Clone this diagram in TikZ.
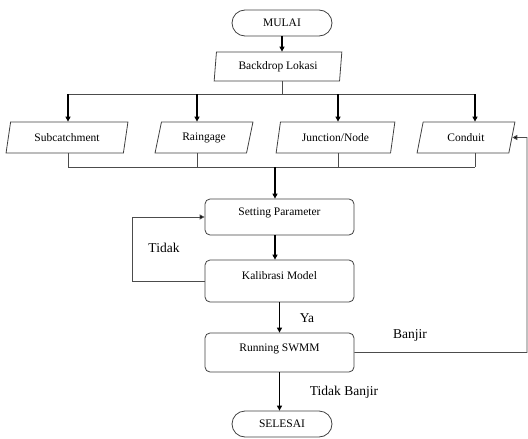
\documentclass[tikz,border=0pt]{standalone}
\usepackage{fontspec}
\setmainfont{Liberation Serif}
\usetikzlibrary{shapes.geometric,arrows.meta}
\begin{document}
\begin{tikzpicture}[x=1pt,y=-1pt,
 box/.style={draw=black!75, line width=0.8pt, font=\fontsize{11.5}{12}\selectfont, inner sep=0pt},
 term/.style={box, rectangle, rounded corners=13pt, minimum width=100pt, minimum height=26pt},
 io/.style={box, trapezium, trapezium left angle=72, trapezium right angle=108, trapezium stretches=true, minimum height=31pt},
 proc/.style={box, rectangle, rounded corners=5pt, minimum width=149pt, text height=7pt, text depth=10pt},
 arr/.style={line width=1.1pt, -{Triangle[length=5pt,width=5pt]}},
 arrthin/.style={draw=black!70, line width=0.8pt, -{Triangle[length=5pt,width=5pt,fill=black]}},
 ln/.style={draw=black!70, line width=0.8pt},
 lab/.style={font=\fontsize{13.5}{14}\selectfont, inner sep=0pt}]
\useasboundingbox (0,0) rectangle (528,439);

\node[term] (mulai) at (282,23) {MULAI};
\node[io, trapezium left angle=82, trapezium right angle=98, minimum width=128pt, minimum height=29pt] (backdrop) at (278,66.5) {Backdrop Lokasi};
\node[io, minimum width=122pt] (sub) at (67,137.5) {Subcatchment};
\node[io, minimum width=98pt] (rain) at (204,137.5) {Raingage};
\node[io, minimum width=119pt] (junc) at (335.5,137.5) {Junction/Node};
\node[io, minimum width=98pt] (cond) at (466,137.5) {Conduit};
\node[proc, minimum height=36pt] (set) at (279.5,217) {Setting Parameter};
\node[proc, minimum height=42pt] (kal) at (279.5,281) {Kalibrasi Model};
\node[proc, minimum height=39pt] (run) at (279.5,352.5) {Running SWMM};
\node[term] (selesai) at (282,424) {SELESAI};

\node[lab] (tidak) at (164,248) {Tidak};
\node[lab] (ya) at (307,318) {Ya};
\node[lab] (banjir) at (410,335) {Banjir};
\node[lab] (tb) at (344,392) {Tidak Banjir};

\coordinate (bt) at (282,94);
\coordinate (b1) at (68,94);
\coordinate (b2) at (197,94);
\coordinate (b3) at (338,94);
\coordinate (b4) at (475,94);
\coordinate (c1) at (68,167);
\coordinate (c2) at (197,167);
\coordinate (c3) at (338,167);
\coordinate (c4) at (475,167);
\coordinate (c0) at (275,167);
\coordinate (lp) at (132,217);
\coordinate (rb) at (527,137.5);

\draw[arr] (mulai.south) -- (backdrop.north -| mulai.south);
\draw[ln] (backdrop.south -| bt) -- (bt);
\draw[ln] (b1) -- (b4);
\draw[arr] (b1) -- (sub.north -| b1);
\draw[arr] (b2) -- (rain.north -| b2);
\draw[arr] (b3) -- (junc.north -| b3);
\draw[arr] (b4) -- (cond.north -| b4);
\draw[ln] (sub.south -| c1) -- (c1);
\draw[ln] (rain.south -| c2) -- (c2);
\draw[ln] (junc.south -| c3) -- (c3);
\draw[ln] (cond.south -| c4) -- (c4);
\draw[ln] (c1) -- (c4);
\draw[arr] (c0) -- (set.north -| c0);
\draw[arr] (set.south -| c0) -- (kal.north -| c0);
\draw[arr] (kal) -- (run);
\draw[arr] (run.south) -- (selesai.north -| run.south);
\draw[arrthin] (kal.west) -| (lp) -- (set.west);
\draw[arrthin] (run.east) -| (rb) -- (cond.east);
\end{tikzpicture}
\end{document}
